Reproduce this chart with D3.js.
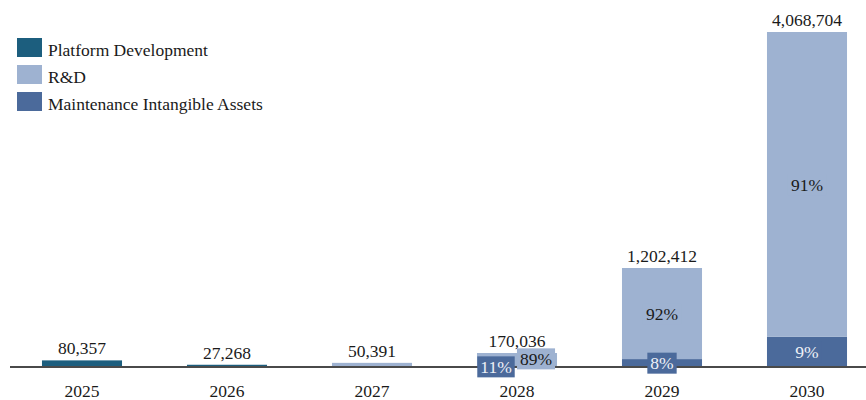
<!DOCTYPE html>
<html>
<head>
<meta charset="utf-8">
<script src="https://cdn.jsdelivr.net/npm/d3@7"></script>
<style>
  html, body { margin: 0; padding: 0; background: #fff; }
  svg { display: block; font-family: "Liberation Serif", "Times New Roman", serif; }
</style>
</head>
<body>
<svg id="chart" width="866" height="400"></svg>
<script>
// Capex by year, split by component
const years = ["2025", "2026", "2027", "2028", "2029", "2030"];
const platformDevelopment = [80357, 27268, 0, 0, 0, 0];
const researchDevelopment = [0, 0, 50391, 151332, 1106219, 3702521];
const maintenanceIntangibles = [0, 0, 0, 18704, 96193, 366183];

const seriesNames = ["Platform Development", "R&D", "Maintenance Intangible Assets"];

// styling / layout
const colors = {
  maintenance: "#4b6a9b",
  rnd: "#9eb2d1",
  platform: "#1c5e7e"
};
const FONT = 17.5;
const baseline = 367;
const topY = 32;

// small nudges for share labels that would overlap on short bars
const labelNudge = {
  "2028": { maintenance: [-21, 0.5], rnd: [19, -0.5] }
};

const rows = years.map((y, i) => ({
  year: y,
  platform: platformDevelopment[i],
  rnd: researchDevelopment[i],
  maintenance: maintenanceIntangibles[i]
}));
rows.forEach(r => { r.total = r.platform + r.rnd + r.maintenance; });

const keys = ["maintenance", "rnd", "platform"];
const stacked = d3.stack().keys(keys)(rows);

const svg = d3.select("#chart");

const x = d3.scaleBand()
  .domain(years)
  .range([9.5, 879.5])
  .paddingInner(0.448)
  .paddingOuter(0.224);

const y = d3.scaleLinear()
  .domain([0, d3.max(rows, r => r.total)])
  .range([baseline, topY]);

// bars
const layers = svg.append("g").selectAll("g")
  .data(stacked)
  .join("g")
  .attr("fill", d => colors[d.key]);

layers.selectAll("rect")
  .data(d => d.map(v => ({ v, key: d.key })))
  .join("rect")
  .attr("x", d => x(d.v.data.year))
  .attr("width", x.bandwidth())
  .attr("y", d => y(d.v[1]))
  .attr("height", d => Math.max(0, y(d.v[0]) - y(d.v[1])));

// axis
const axis = svg.append("g")
  .attr("transform", `translate(0,${baseline})`)
  .call(d3.axisBottom(x).tickSize(0).tickPadding(0));
axis.select(".domain").attr("stroke", "#4a4a4a").attr("stroke-width", 2)
  .attr("d", `M10,0H866`);
axis.selectAll("text")
  .attr("font-family", "Liberation Serif, Times New Roman, serif")
  .attr("font-size", FONT)
  .attr("fill", "#1a1a1a")
  .attr("dy", null)
  .attr("y", 29.5);

// totals above bars
svg.append("g").selectAll("text")
  .data(rows)
  .join("text")
  .attr("x", d => x(d.year) + x.bandwidth() / 2)
  .attr("y", d => y(d.total) - 6)
  .attr("text-anchor", "middle")
  .attr("font-size", FONT)
  .attr("fill", "#1a1a1a")
  .text(d => d3.format(",")(d.total));

// share labels for years with more than one component
const shareLabels = [];
stacked.forEach(layer => {
  layer.forEach(v => {
    const r = v.data;
    const parts = keys.filter(k => r[k] > 0).length;
    if (parts < 2 || r[layer.key] === 0) return;
    const nudge = (labelNudge[r.year] || {})[layer.key] || [0, 0];
    shareLabels.push({
      key: layer.key,
      text: Math.round(r[layer.key] / r.total * 100) + "%",
      cx: x(r.year) + x.bandwidth() / 2 + nudge[0],
      cy: (y(v[0]) + y(v[1])) / 2 + nudge[1]
    });
  });
});

const lg = svg.append("g").selectAll("g")
  .data(shareLabels)
  .join("g")
  .attr("transform", d => `translate(${d.cx},${d.cy})`);

const lt = lg.append("text")
  .attr("text-anchor", "middle")
  .attr("dy", "0.35em")
  .attr("font-size", FONT)
  .attr("fill", d => d.key === "maintenance" ? "#eef1f7" : "#1a1a1a")
  .text(d => d.text);

lt.each(function () {
  const b = this.getBBox();
  d3.select(this.parentNode).insert("rect", "text")
    .attr("x", b.x - 3)
    .attr("y", b.y - 0.5)
    .attr("width", b.width + 6)
    .attr("height", b.height + 1)
    .attr("fill", d => colors[d.key]);
});

// legend
const legend = svg.append("g").attr("transform", "translate(17,38)");
const legendKeys = ["platform", "rnd", "maintenance"];
const li = legend.selectAll("g")
  .data(seriesNames)
  .join("g")
  .attr("transform", (d, i) => `translate(0,${i * 27})`);
li.append("rect")
  .attr("width", 25)
  .attr("height", 19)
  .attr("fill", (d, i) => colors[legendKeys[i]]);
li.append("text")
  .attr("x", 31)
  .attr("y", 18)
  .attr("font-size", FONT)
  .attr("fill", "#1a1a1a")
  .text(d => d);
</script>
</body>
</html>
